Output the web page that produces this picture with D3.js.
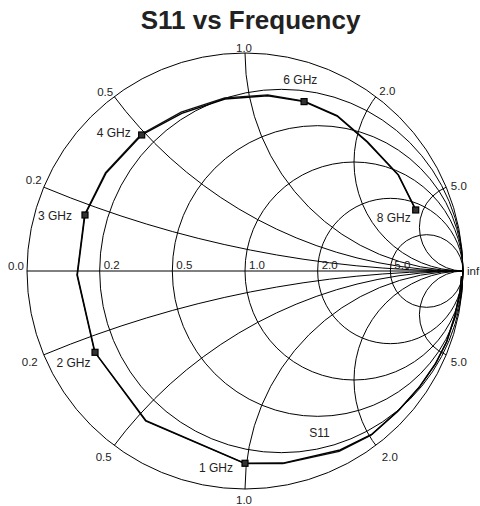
<!DOCTYPE html>
<html>
<head>
<meta charset="utf-8">
<script src="https://cdn.jsdelivr.net/npm/d3@7/dist/d3.min.js"></script>
<style>
  html, body { margin: 0; padding: 0; background: #fff; }
  svg { display: block; }
  text { font-family: "Liberation Sans", Arial, Helvetica, sans-serif; fill: #222; }
</style>
</head>
<body>
<svg id="chart" width="480" height="506"></svg>
<script>
// ---- Data ----
const titleText = "S11 vs Frequency";
const traceName = "S11";
const freqGHz = [0.05, 0.1, 0.2, 0.3, 0.4, 0.5, 0.6, 0.7, 0.8, 0.9,
                 1.0, 1.5, 2.0, 2.5, 3.0, 3.5, 4.0, 4.5, 5.0, 5.5, 6.0, 6.5, 7.0, 7.5, 8.0];
const s11Re = [0.993, 0.986, 0.963, 0.927, 0.876, 0.803, 0.706, 0.583, 0.436, 0.174,
               0.000, -0.454, -0.688, -0.769, -0.734, -0.638, -0.474, -0.290, -0.092, 0.104,
               0.271, 0.422, 0.560, 0.703, 0.783];
const s11Im = [-0.023, -0.096, -0.206, -0.321, -0.422, -0.528, -0.638, -0.748, -0.821, -0.881,
               -0.882, -0.687, -0.373, -0.018, 0.257, 0.448, 0.624, 0.723, 0.789, 0.804,
               0.777, 0.711, 0.592, 0.440, 0.280];
const s11bRe = [0.993, 0.985, 0.961, 0.924, 0.872, 0.798, 0.700, 0.578, 0.432, 0.174,
                0.000, -0.456, -0.690, -0.771, -0.736, -0.640, -0.476, -0.293, -0.093, 0.104,
                0.272, 0.423, 0.562, 0.704, 0.784];
const s11bIm = [-0.026, -0.100, -0.211, -0.326, -0.428, -0.535, -0.645, -0.753, -0.827, -0.884,
                -0.884, -0.688, -0.372, -0.018, 0.258, 0.451, 0.627, 0.729, 0.794, 0.808,
                0.779, 0.713, 0.593, 0.441, 0.281];
const markerFreqs = [1, 2, 3, 4, 6, 8];
const markerLabels = ["1 GHz", "2 GHz", "3 GHz", "4 GHz", "6 GHz", "8 GHz"];
const resistanceValues = [0.2, 0.5, 1, 2, 5];
const resistanceLabels = ["0.2", "0.5", "1.0", "2.0", "5.0"];
const reactanceValues = [0.2, 0.5, 1, 2, 5];
const reactanceLabels = ["0.2", "0.5", "1.0", "2.0", "5.0"];

// ---- Layout ----
const cx = 245, cy = 271, R = 218;
const svg = d3.select("#chart");
const x = d3.scaleLinear().domain([-1, 1]).range([cx - R, cx + R]);
const y = d3.scaleLinear().domain([-1, 1]).range([cy + R, cy - R]);
const rs = d3.scaleLinear().domain([0, 1]).range([0, R]);

svg.append("rect").attr("width", 480).attr("height", 506).attr("fill", "#fff");

svg.append("text").attr("x", 250.5).attr("y", 28.5).attr("text-anchor", "middle")
  .style("font-size", "26px").style("font-weight", "bold").text(titleText);

const defs = svg.append("defs");
defs.append("clipPath").attr("id", "unit")
  .append("circle").attr("cx", x(0)).attr("cy", y(0)).attr("r", rs(1));

const grid = svg.append("g").attr("fill", "none").attr("stroke", "#000").attr("stroke-width", 1);

grid.append("circle").attr("cx", x(0)).attr("cy", y(0)).attr("r", rs(1));
grid.append("line").attr("x1", x(-1)).attr("y1", y(0)).attr("x2", x(1)).attr("y2", y(0));
grid.selectAll("circle.res").data(resistanceValues).join("circle").attr("class", "res")
  .attr("cx", r => x(r / (1 + r))).attr("cy", y(0)).attr("r", r => rs(1 / (1 + r)));
const arcs = grid.append("g").attr("clip-path", "url(#unit)");
reactanceValues.forEach(v => {
  [1, -1].forEach(s => {
    arcs.append("circle").attr("cx", x(1)).attr("cy", y(s / v)).attr("r", rs(1 / v));
  });
});

// ---- Labels ----
const lab = svg.append("g").style("font-size", "11.5px");
resistanceValues.forEach((r, i) => {
  lab.append("text").attr("x", x((r - 1) / (r + 1)) + 4).attr("y", y(0) - 2.5).text(resistanceLabels[i]);
});
const reactOffsets = {
  "0.2": { up: [-2, -3, "end"], dn: [-6, 11, "end"] },
  "0.5": { up: [-1, -1, "end"], dn: [-2.5, 15.5, "end"] },
  "1":   { up: [-1, -1.5, "middle"], dn: [-1, 15, "middle"] },
  "2":   { up: [3.5, -2, "start"], dn: [6, 15.5, "start"] },
  "5":   { up: [4.6, 3, "start"], dn: [4.6, 11, "start"] }
};
reactanceValues.forEach((v, i) => {
  const den = 1 + v * v;
  const gr = (v * v - 1) / den, gi = 2 * v / den;
  const o = reactOffsets[String(v)];
  lab.append("text").attr("x", x(gr) + o.up[0]).attr("y", y(gi) + o.up[1])
    .attr("text-anchor", o.up[2]).text(reactanceLabels[i]);
  lab.append("text").attr("x", x(gr) + o.dn[0]).attr("y", y(-gi) + o.dn[1])
    .attr("text-anchor", o.dn[2]).text(reactanceLabels[i]);
});
lab.append("text").attr("x", x(-1) - 3).attr("y", y(0) - 1).attr("text-anchor", "end").text("0.0");
lab.append("text").attr("x", x(1) + 4).attr("y", y(0) + 4).text("inf");

// ---- Traces ----
const ptsA = freqGHz.map((f, i) => ({ f, re: s11Re[i], im: s11Im[i] }));
const ptsB = freqGHz.map((f, i) => ({ f, re: s11bRe[i], im: s11bIm[i] }));
const line = d3.line().x(d => x(d.re)).y(d => y(d.im));
svg.append("path").attr("d", line(ptsB)).attr("fill", "none").attr("stroke", "#111").attr("stroke-width", 1.3);
svg.append("path").attr("d", line(ptsA)).attr("fill", "none").attr("stroke", "#000").attr("stroke-width", 1.4);

const mk = ptsA.filter(d => markerFreqs.includes(d.f));
svg.selectAll("rect.mk").data(mk).join("rect").attr("class", "mk")
  .attr("x", d => x(d.re) - 3).attr("y", d => y(d.im) - 3)
  .attr("width", 6).attr("height", 6).attr("fill", "#333").attr("stroke", "#000").attr("stroke-width", 1.2);

const mkOffsets = {
  1: [-12, 9, "end"], 2: [-4.5, 14.7, "end"], 3: [-13, 5, "end"],
  4: [-11, 2, "end"], 6: [-3.7, -17.7, "middle"], 8: [-5, 12, "end"]
};
markerFreqs.forEach((f, i) => {
  const d = ptsA.find(p => p.f === f);
  const o = mkOffsets[f];
  svg.append("text").attr("x", x(d.re) + o[0]).attr("y", y(d.im) + o[1])
    .attr("text-anchor", o[2]).style("font-size", "12px").text(markerLabels[i]);
});
svg.append("text").attr("x", 309.3).attr("y", 437).style("font-size", "12px").text(traceName);
</script>
</body>
</html>
